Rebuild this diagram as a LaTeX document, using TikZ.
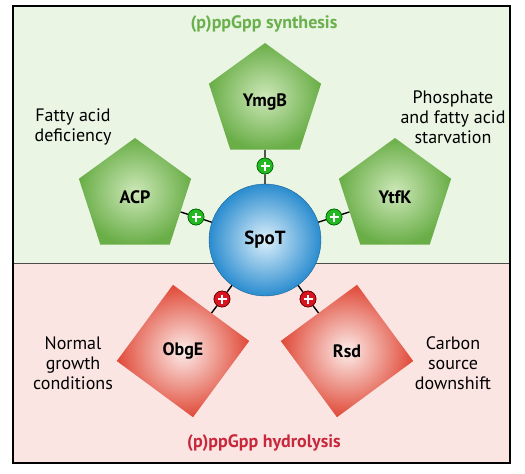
\documentclass[tikz,border=0pt]{standalone}
\usepackage{fontspec}
\setmainfont{PT Sans}
\usepackage{xcolor}
\usetikzlibrary{shapes.geometric, positioning, calc}
\definecolor{synbg}{HTML}{EAF5E4}
\definecolor{hydbg}{HTML}{FBE5E2}
\definecolor{syntext}{HTML}{6AB04C}
\definecolor{hydtext}{HTML}{C8283C}
\definecolor{penin}{HTML}{CDE8B8}
\definecolor{penout}{HTML}{6AAE48}
\definecolor{sqin}{HTML}{FCEDEA}
\definecolor{sqout}{HTML}{E04A38}
\definecolor{ballin}{HTML}{DDF0FB}
\definecolor{ballout}{HTML}{2A8CCF}
\definecolor{plusgreen}{HTML}{22B922}
\definecolor{plusred}{HTML}{D81420}
\tikzstyle{pentagon} = [regular polygon, regular polygon sides=5, minimum size=118pt, inner sep=0pt, shading=radial, inner color=penin, outer color=penout, font=\fontsize{18}{20}\selectfont\bfseries]
\tikzstyle{square} = [regular polygon, regular polygon sides=4, minimum size=134pt, inner sep=0pt, shading=radial, inner color=sqin, outer color=sqout, font=\fontsize{18}{20}\selectfont\bfseries]
\tikzstyle{ball} = [circle, minimum size=112pt, inner sep=0pt, draw=ballout!70!black, line width=0.4pt, shading=radial, inner color=ballin, outer color=ballout, font=\fontsize{19}{21}\selectfont\bfseries]
\tikzstyle{plus} = [circle, minimum size=16pt, inner sep=0pt, line width=0.6pt, path picture={\draw[white, line width=2.6pt] ([xshift=-4.5pt]path picture bounding box.center) -- ([xshift=4.5pt]path picture bounding box.center); \draw[white, line width=2.6pt] ([yshift=-4.5pt]path picture bounding box.center) -- ([yshift=4.5pt]path picture bounding box.center);}]
\tikzstyle{gplus} = [plus, fill=plusgreen, draw=green!40!black]
\tikzstyle{rplus} = [plus, fill=plusred, draw=red!40!black]
\tikzstyle{cond} = [align=center, font=\fontsize{18}{20}\selectfont]
\tikzstyle{link} = [line width=1.4pt]

\begin{document}
\begin{tikzpicture}[x=1pt, y=-1pt]
    \useasboundingbox (0,0) rectangle (525,474);
    \fill[synbg] (13,6) rectangle (510,263);
    \fill[hydbg] (13,263) rectangle (510,463);
    \draw[line width=0.6pt, black!70] (13,263) -- (510,263);
    \draw[line width=1.2pt] (13,6) rectangle (510,463);

    \node (syn) [text=syntext, font=\fontsize{18}{20}\selectfont\bfseries] at (264,24) {(p)ppGpp synthesis};
    \node (hyd) [text=hydtext, font=\fontsize{18}{20}\selectfont\bfseries] at (264,443) {(p)ppGpp hydrolysis};

    \node (spot) [ball] at (265,240) {SpoT};
    \node (ymgb) [pentagon] at (265,102) {YmgB};
    \node (acp) [pentagon] at (135,197) {ACP};
    \node (ytfk) [pentagon] at (395,197) {YtfK};
    \node (obge) [square, shape border rotate=-36.4] at (183,351) {ObgE};
    \node (rsd) [square, shape border rotate=36.4] at (347,351) {Rsd};

    \node (pymgb) [gplus] at (265,166) {};
    \node (pacp) [gplus] at (196,217) {};
    \node (pytfk) [gplus] at (334,217) {};
    \node (pobge) [rplus] at (222,299) {};
    \node (prsd) [rplus] at (308,299) {};

    \draw [link] (ymgb) -- (pymgb) -- (spot);
    \draw [link] (acp) -- (pacp) -- (spot);
    \draw [link] (ytfk) -- (pytfk) -- (spot);
    \draw [link] (obge) -- (pobge) -- (spot);
    \draw [link] (rsd) -- (prsd) -- (spot);
    \node (pymgb') [gplus] at (pymgb) {};
    \node (pacp') [gplus] at (pacp) {};
    \node (pytfk') [gplus] at (pytfk) {};
    \node (pobge') [rplus] at (pobge) {};
    \node (prsd') [rplus] at (prsd) {};

    \node (fatty) [cond] at (73,127) {Fatty acid\\deficiency};
    \node (phos) [cond] at (453,117) {Phosphate\\and fatty acid\\starvation};
    \node (normal) [cond] at (73,363) {Normal\\growth\\conditions};
    \node (carbon) [cond] at (453,363) {Carbon\\source\\downshift};
\end{tikzpicture}
\end{document}
